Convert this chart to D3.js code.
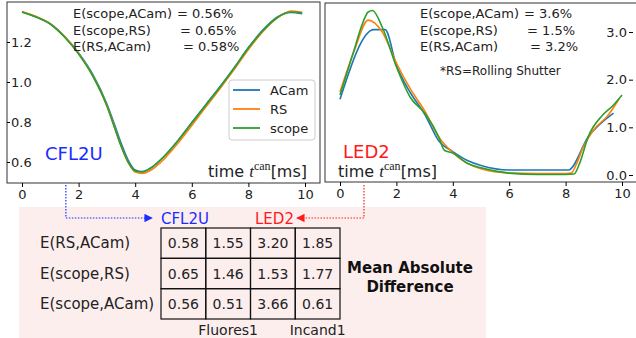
<!DOCTYPE html>
<html>
<head>
<meta charset="utf-8">
<script src="https://cdn.jsdelivr.net/npm/d3@7"></script>
<style>
  body { margin: 0; background: #fff; }
  svg text { font-family: 'DejaVu Sans', sans-serif; }
</style>
</head>
<body>
<div class="container"></div>
<script>
// CFL2U panel
const tLeft = [0, 0.5, 1, 1.5, 2, 2.5, 3, 3.25, 3.5, 3.75, 4, 4.25, 4.5, 5, 5.5, 6, 6.5, 7, 7.5, 8, 8.5, 9, 9.5, 9.9]
const acamLeft  = [1.35, 1.325, 1.29, 1.228, 1.145, 1.038, 0.89, 0.795, 0.695, 0.61, 0.56, 0.552, 0.566, 0.625, 0.705, 0.797, 0.888, 0.978, 1.072, 1.172, 1.258, 1.323, 1.348, 1.342]
const rsLeft    = [1.352, 1.327, 1.292, 1.228, 1.143, 1.032, 0.882, 0.782, 0.68, 0.598, 0.55, 0.543, 0.555, 0.612, 0.692, 0.783, 0.876, 0.968, 1.063, 1.163, 1.25, 1.318, 1.355, 1.348]
const scopeLeft = [1.35, 1.325, 1.29, 1.225, 1.14, 1.03, 0.88, 0.78, 0.68, 0.6, 0.555, 0.55, 0.565, 0.625, 0.705, 0.795, 0.885, 0.975, 1.07, 1.17, 1.255, 1.32, 1.35, 1.345]

// LED2 panel
const tAcamRight = [0, 1.2, 1.6, 2, 2.5, 3, 3.5, 4, 4.5, 5, 6, 8.1, 8.8, 9.7]
const acamRight  = [1.59, 3.05, 3.05, 2.3, 1.72, 1.28, 0.72, 0.49, 0.31, 0.2, 0.105, 0.105, 0.8, 1.3]
const tRsRight = [0, 0.5, 1, 1.5, 2, 2.5, 3, 3.5, 4, 4.5, 5, 6, 7, 8, 8.2, 8.4, 8.6, 9, 9.5, 9.9]
const rsRight  = [1.74, 2.6, 3.25, 3.0, 2.35, 1.8, 1.35, 0.8, 0.47, 0.25, 0.13, 0.04, 0.03, 0.03, 0.04, 0.25, 0.55, 0.95, 1.25, 1.6]
const tScopeRight = [0, 0.25, 0.5, 0.75, 1, 1.15, 1.5, 2, 2.5, 3, 3.5, 3.7, 4, 4.5, 5, 6, 7, 8, 8.3, 8.5, 8.8, 9.3, 9.7, 10]
const scopeRight  = [1.68, 2.15, 2.62, 3.1, 3.42, 3.45, 3.1, 2.27, 1.62, 1.3, 0.8, 0.52, 0.46, 0.25, 0.15, 0.04, 0.01, 0.01, 0.02, 0.25, 0.8, 1.25, 1.47, 1.68]

const xTicks = [0, 2, 4, 6, 8, 10]
const yTicksLeft = [0.6, 0.8, 1.0, 1.2]
const yTicksRight = [0, 1, 2, 3]

const seriesNames = ['ACam', 'RS', 'scope']
const colors = ['#1f77b4', '#ff7f0e', '#2ca02c']

const errLeft = [['E(scope,ACam)', '= 0.56%'], ['E(scope,RS)', '= 0.65%'], ['E(RS,ACam)', '= 0.58%']]
const errRight = [['E(scope,ACam)', '= 3.6%'], ['E(scope,RS)', '= 1.5%'], ['E(RS,ACam)', '= 3.2%']]

const rowLabels = ['E(RS,ACam)', 'E(scope,RS)', 'E(scope,ACam)']
const tableValues = [
    ['0.58', '1.55', '3.20', '1.85'],
    ['0.65', '1.46', '1.53', '1.77'],
    ['0.56', '0.51', '3.66', '0.61']
]
const colLabels = ['', 'Fluores1', '', 'Incand1']

const width = 636
const height = 338
const ink = '#222'

const svg = d3.select('.container')
    .append('svg')
    .attr('width', width)
    .attr('height', height)

// scales
const xL = d3.scaleLinear().domain([0, 10]).range([22, 305])
const yL = d3.scaleLinear().domain([1.0, 1.2]).range([82, 42])
const xR = d3.scaleLinear().domain([0, 10]).range([340, 622])
const yR = d3.scaleLinear().domain([0, 3]).range([175, 32])

// pink panel behind the table
svg.append('rect')
    .attr('x', 19).attr('y', 207)
    .attr('width', 467).attr('height', 131)
    .attr('fill', '#fdeeee')

function drawLine(g, xs, ys, xScale, yScale, color) {
    const pts = xs.map((t, i) => [t, ys[i]])
    const line = d3.line()
        .x((d) => xScale(d[0]))
        .y((d) => yScale(d[1]))
        .curve(d3.curveMonotoneX)
    g.append('path')
        .datum(pts)
        .attr('d', line)
        .attr('fill', 'none')
        .attr('stroke', color)
        .attr('stroke-width', 1.6)
}

// ---- left panel
const left = svg.append('g')
left.append('rect')
    .attr('x', 7).attr('y', 2).attr('width', 313).attr('height', 181)
    .attr('fill', 'none').attr('stroke', '#333').attr('stroke-width', 1)

drawLine(left, tLeft, acamLeft, xL, yL, colors[0])
drawLine(left, tLeft, rsLeft, xL, yL, colors[1])
drawLine(left, tLeft, scopeLeft, xL, yL, colors[2])

left.append('g')
    .attr('transform', 'translate(0,183)')
    .call(d3.axisBottom(xL).tickValues(xTicks).tickSize(4).tickPadding(3).tickFormat(d3.format('d')))
    .call((g) => g.select('.domain').remove())
    .selectAll('text').attr('font-size', '13px').attr('fill', ink)

left.append('g')
    .attr('transform', 'translate(7,0)')
    .call(d3.axisRight(yL).tickValues(yTicksLeft).tickSize(3).tickPadding(1).tickFormat(d3.format('.1f')))
    .call((g) => g.select('.domain').remove())
    .selectAll('text').attr('font-size', '13px').attr('fill', ink)

errLeft.forEach((e, i) => {
    left.append('text').attr('x', 73).attr('y', 18 + i * 16.5).attr('font-size', '13px').attr('fill', ink).text(e[0])
    left.append('text').attr('x', 177 + i * 3).attr('y', 18 + i * 16.5).attr('font-size', '13px').attr('fill', ink).text(e[1])
})

// legend
const legend = left.append('g')
legend.append('rect')
    .attr('x', 229).attr('y', 80).attr('width', 86).attr('height', 60).attr('rx', 3)
    .attr('fill', '#fff').attr('fill-opacity', 0.85).attr('stroke', '#ccc')
seriesNames.forEach((name, i) => {
    const y = 90 + i * 19
    legend.append('line')
        .attr('x1', 233).attr('x2', 260).attr('y1', y).attr('y2', y)
        .attr('stroke', colors[i]).attr('stroke-width', 1.8)
    legend.append('text')
        .attr('x', 270).attr('y', y + 4.5).attr('font-size', '13px').attr('fill', ink).text(name)
})

left.append('text').attr('x', 45).attr('y', 160).attr('font-size', '18px').attr('fill', '#1a2cff').text('CFL2U')

function timeLabel(g, x, y) {
    const t = g.append('text').attr('x', x).attr('y', y).attr('font-size', '16px').attr('fill', ink)
    t.append('tspan').text('time ')
    t.append('tspan').attr('font-family', 'Liberation Serif').attr('font-style', 'italic').attr('font-size', '17px').text('t')
    t.append('tspan').attr('font-family', 'Liberation Serif').attr('font-size', '12px').attr('dy', -7).text('can')
    t.append('tspan').attr('dy', 7).text('[ms]')
}
timeLabel(left, 208, 177)

// ---- right panel
const right = svg.append('g')
right.append('rect')
    .attr('x', 325).attr('y', 3).attr('width', 320).attr('height', 179)
    .attr('fill', 'none').attr('stroke', '#333').attr('stroke-width', 1)

drawLine(right, tAcamRight, acamRight, xR, yR, colors[0])
drawLine(right, tRsRight, rsRight, xR, yR, colors[1])
drawLine(right, tScopeRight, scopeRight, xR, yR, colors[2])

right.append('g')
    .attr('transform', 'translate(0,182)')
    .call(d3.axisBottom(xR).tickValues(xTicks).tickSize(4).tickPadding(3).tickFormat(d3.format('d')))
    .call((g) => g.select('.domain').remove())
    .selectAll('text').attr('font-size', '13px').attr('fill', ink)

right.append('g')
    .attr('transform', 'translate(633,0)')
    .call(d3.axisLeft(yR).tickValues(yTicksRight).tickSize(4).tickPadding(2).tickFormat(d3.format('.1f')))
    .call((g) => g.select('.domain').remove())
    .selectAll('text').attr('font-size', '13px').attr('fill', ink)

errRight.forEach((e, i) => {
    right.append('text').attr('x', 420).attr('y', 18 + i * 16.5).attr('font-size', '13px').attr('fill', ink).text(e[0])
    right.append('text').attr('x', 524 + i * 3).attr('y', 18 + i * 16.5).attr('font-size', '13px').attr('fill', ink).text(e[1])
})
right.append('text').attr('x', 440).attr('y', 75).attr('font-size', '12px').attr('fill', ink).text('*RS=Rolling Shutter')

right.append('text').attr('x', 343).attr('y', 158).attr('font-size', '18px').attr('fill', '#ff1a1a').text('LED2')
timeLabel(right, 338, 177)

// ---- dotted connectors
svg.append('defs').selectAll('marker')
    .data([['arrBlue', '#1a2cff'], ['arrRed', '#ff1a1a']])
    .enter()
    .append('marker')
    .attr('id', (d) => d[0])
    .attr('viewBox', '0 0 10 10')
    .attr('refX', 9).attr('refY', 5)
    .attr('markerWidth', 7).attr('markerHeight', 7)
    .attr('orient', 'auto')
    .append('path').attr('d', 'M0,0L10,5L0,10z').attr('fill', (d) => d[1])

svg.append('path')
    .attr('d', `M${xL(1.55)},185 V218 H152`)
    .attr('fill', 'none').attr('stroke', '#1a2cff').attr('stroke-width', 1.2)
    .attr('stroke-dasharray', '1.5,1.5').attr('marker-end', 'url(#arrBlue)')
svg.append('text').attr('x', 161).attr('y', 224).attr('font-size', '15px').attr('fill', '#1a2cff').text('CFL2U')

svg.append('path')
    .attr('d', `M${xR(0.85)},185 V218 H297`)
    .attr('fill', 'none').attr('stroke', '#ff1a1a').attr('stroke-width', 1.2)
    .attr('stroke-dasharray', '1.5,1.5').attr('marker-end', 'url(#arrRed)')
svg.append('text').attr('x', 255).attr('y', 224).attr('font-size', '15px').attr('fill', '#ff1a1a').text('LED2')

// ---- table
const colX = d3.scaleBand().domain(d3.range(4)).range([161, 340])
const rowY = d3.scaleBand().domain(d3.range(3)).range([228, 319])
const table = svg.append('g')

const cells = []
tableValues.forEach((row, r) => row.forEach((v, c) => cells.push({ r, c, v })))

table.selectAll('rect.cell')
    .data(cells)
    .enter()
    .append('rect')
    .attr('class', 'cell')
    .attr('x', (d) => colX(d.c))
    .attr('y', (d) => rowY(d.r))
    .attr('width', colX.bandwidth())
    .attr('height', rowY.bandwidth())
    .attr('fill', 'none')
    .attr('stroke', '#111')
    .attr('stroke-width', 1.2)

table.selectAll('text.val')
    .data(cells)
    .enter()
    .append('text')
    .attr('class', 'val')
    .attr('x', (d) => colX(d.c) + colX.bandwidth() / 2)
    .attr('y', (d) => rowY(d.r) + rowY.bandwidth() / 2 + 5)
    .attr('text-anchor', 'middle')
    .attr('font-size', '14px')
    .attr('fill', ink)
    .text((d) => d.v)

table.selectAll('text.rowlab')
    .data(rowLabels)
    .enter()
    .append('text')
    .attr('class', 'rowlab')
    .attr('x', 40)
    .attr('y', (d, i) => rowY(i) + rowY.bandwidth() / 2 + 5)
    .attr('font-size', '15px')
    .attr('fill', ink)
    .text((d) => d)

table.selectAll('text.collab')
    .data(colLabels)
    .enter()
    .append('text')
    .attr('class', 'collab')
    .attr('x', (d, i) => colX(i) + colX.bandwidth() / 2)
    .attr('y', 335)
    .attr('text-anchor', 'middle')
    .attr('font-size', '14px')
    .attr('fill', ink)
    .text((d) => d)

const mad = svg.append('text')
    .attr('text-anchor', 'middle')
    .attr('font-size', '15px')
    .attr('font-weight', 'bold')
    .attr('fill', '#111')
mad.append('tspan').attr('x', 410).attr('y', 273).text('Mean Absolute')
mad.append('tspan').attr('x', 410).attr('y', 292).text('Difference')
</script>
</body>
</html>
